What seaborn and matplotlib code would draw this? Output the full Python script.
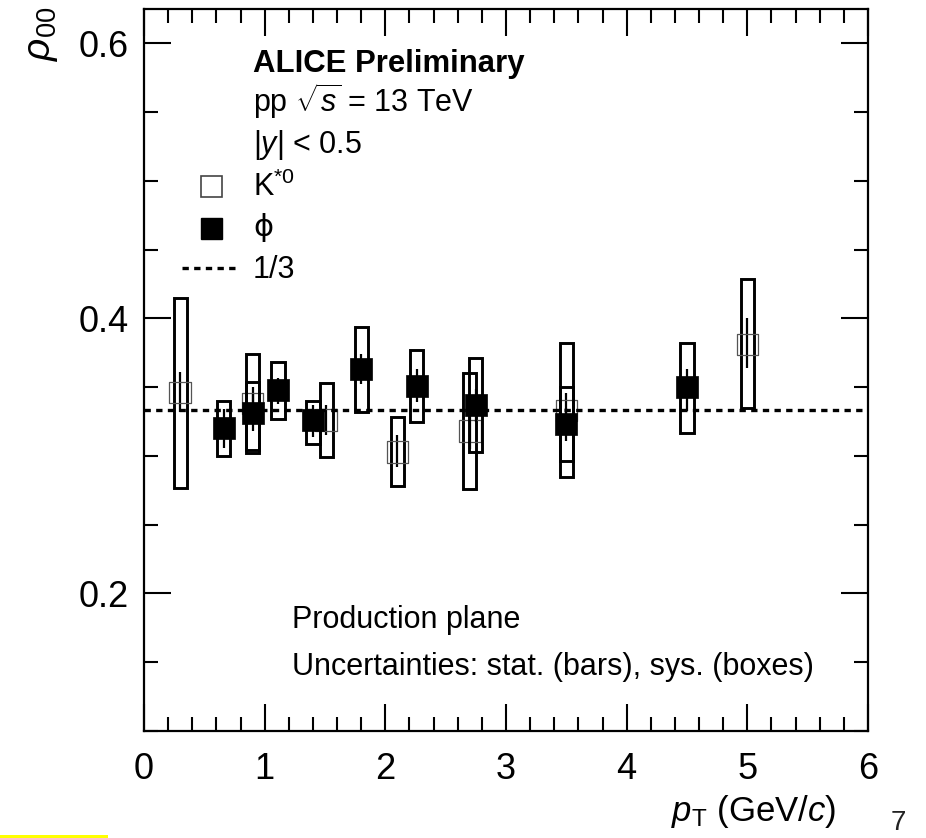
import matplotlib
matplotlib.use("Agg")
import matplotlib.pyplot as plt
from matplotlib.patches import Rectangle
from matplotlib.ticker import MultipleLocator
import pandas as pd
import seaborn as sns

# K*0 spin-density element rho_00 vs pT
kst_pt = [0.30, 0.90, 1.51, 2.10, 2.70, 3.50, 5.00]
kst_rho = [0.346, 0.338, 0.326, 0.303, 0.318, 0.333, 0.381]
kst_stat_lo = [0.332, 0.328, 0.315, 0.292, 0.305, 0.320, 0.364]
kst_stat_hi = [0.361, 0.350, 0.337, 0.315, 0.331, 0.346, 0.400]
kst_sys_lo = [0.277, 0.304, 0.299, 0.278, 0.276, 0.285, 0.335]
kst_sys_hi = [0.415, 0.374, 0.353, 0.328, 0.360, 0.382, 0.429]

# phi meson
phi_pt = [0.66, 0.90, 1.11, 1.40, 1.80, 2.26, 2.75, 3.50, 4.50]
phi_rho = [0.320, 0.331, 0.348, 0.326, 0.363, 0.351, 0.337, 0.323, 0.350]
phi_stat_lo = [0.306, 0.318, 0.338, 0.314, 0.352, 0.339, 0.325, 0.311, 0.333]
phi_stat_hi = [0.334, 0.345, 0.357, 0.337, 0.374, 0.363, 0.349, 0.335, 0.363]
phi_sys_lo = [0.300, 0.302, 0.327, 0.309, 0.332, 0.325, 0.303, 0.296, 0.317]
phi_sys_hi = [0.340, 0.354, 0.368, 0.340, 0.394, 0.377, 0.371, 0.350, 0.382]

reference_value = 1.0 / 3.0

sns.set_style("white")
plt.rcParams["font.family"] = ["Liberation Sans", "DejaVu Sans"]
plt.rcParams["mathtext.fontset"] = "custom"
plt.rcParams["mathtext.rm"] = "Liberation Sans"
plt.rcParams["mathtext.it"] = "Liberation Sans:italic"
plt.rcParams["mathtext.bf"] = "Liberation Sans:bold"
plt.rcParams["text.color"] = "black"
plt.rcParams["xtick.labelcolor"] = "black"
plt.rcParams["ytick.labelcolor"] = "black"

W, H = 926, 838
fig = plt.figure(figsize=(W / 100, H / 100), dpi=100)
ax = fig.add_axes([144 / W, 1 - 731 / H, (868 - 144) / W, (731 - 9) / H])

box_half = 0.055

def draw_series(pt, slo, shi, ylo, yhi, zbase):
    for x, lo, hi in zip(pt, ylo, yhi):
        ax.add_patch(Rectangle((x - box_half, lo), 2 * box_half, hi - lo,
                               fill=False, edgecolor="black", linewidth=2.1,
                               zorder=zbase))
    ax.vlines(pt, slo, shi, color="black", linewidth=1.6, zorder=zbase + 1)

draw_series(kst_pt, kst_stat_lo, kst_stat_hi, kst_sys_lo, kst_sys_hi, 2)
draw_series(phi_pt, phi_stat_lo, phi_stat_hi, phi_sys_lo, phi_sys_hi, 4)

kst_df = pd.DataFrame({"pt": kst_pt, "rho": kst_rho})
phi_df = pd.DataFrame({"pt": phi_pt, "rho": phi_rho})
sns.scatterplot(data=kst_df, x="pt", y="rho", ax=ax, marker="s", s=240,
                facecolor="none", edgecolor="#555555", linewidth=0.9,
                zorder=3, legend=False)
sns.scatterplot(data=phi_df, x="pt", y="rho", ax=ax, marker="s", s=240,
                color="black", edgecolor="black", linewidth=0.5,
                zorder=6, legend=False)

ax.axhline(reference_value, color="black", linewidth=2.4,
           linestyle=(0, (1.9, 1.6)), zorder=7)

ax.set_xlim(0, 6)
ax.set_ylim(0.1, 0.625)
ax.xaxis.set_major_locator(MultipleLocator(1))
ax.xaxis.set_minor_locator(MultipleLocator(0.2))
ax.yaxis.set_minor_locator(MultipleLocator(0.05))
ax.set_yticks([0.2, 0.4, 0.6])
ax.set_yticklabels(["0.2", "0.4", "0.6"])
ax.tick_params(which="both", direction="in", top=True, right=True,
               bottom=True, left=True, width=1.5, color="black",
               labelsize=26)
ax.tick_params(which="major", length=19.5)
ax.tick_params(which="minor", length=10)
ax.tick_params(axis="x", which="major", pad=15)
ax.tick_params(axis="y", which="major", pad=11)
for s in ax.spines.values():
    s.set_linewidth(1.6)
    s.set_color("black")
ax.set_xlabel("")
ax.set_ylabel("")

# axis titles
fig.text(836 / W, 1 - 821 / H, r"$p_{\mathrm{T}}$ (GeV/$c$)", fontsize=25,
         ha="right", va="baseline")
fig.text(42 / W, 1 - 7 / H, r"$\rho_{00}$", fontsize=28, rotation=90,
         ha="center", va="top")

# header and legend
tx = 253 / W
fig.text(tx, 1 - 72 / H, "ALICE Preliminary", fontsize=22.4, fontweight="bold",
         va="baseline")
fig.text(tx, 1 - 112 / H, r"pp $\sqrt{s}$ = 13 TeV", fontsize=22, va="baseline")
fig.text(tx, 1 - 153 / H, r"|$y$| < 0.5", fontsize=22, va="baseline")
fig.text(tx, 1 - 196 / H, r"K$^{*0}$", fontsize=22, va="baseline")
fig.text(tx, 1 - 236 / H, "\u03d5", fontsize=22, va="baseline",
         family=["DejaVu Sans"])
fig.text(tx, 1 - 278 / H, "1/3", fontsize=22, va="baseline")

lax = fig.add_axes([0, 0, 1, 1], facecolor="none")
lax.set_xlim(0, W)
lax.set_ylim(H, 0)
lax.axis("off")
lax.add_patch(Rectangle((201, 176), 21, 21, fill=False, edgecolor="#444444",
                        linewidth=1.2))
lax.add_patch(Rectangle((201, 218), 21, 21, facecolor="black",
                        edgecolor="black"))
lax.plot([182, 236], [268, 268], color="black", linewidth=2.4,
         linestyle=(0, (1.9, 1.6)))
lax.add_patch(Rectangle((0, 835), 108, 3, facecolor="#ffff00",
                        edgecolor="none"))

fig.text(292 / W, 1 - 628 / H, "Production plane", fontsize=22, va="baseline")
fig.text(292 / W, 1 - 675 / H, "Uncertainties: stat. (bars), sys. (boxes)",
         fontsize=22, va="baseline")
fig.text(898 / W, 1 - 830 / H, "7", fontsize=20, va="baseline", ha="center",
         color="#222222")

fig.savefig("out.png", dpi=100, facecolor="white")
